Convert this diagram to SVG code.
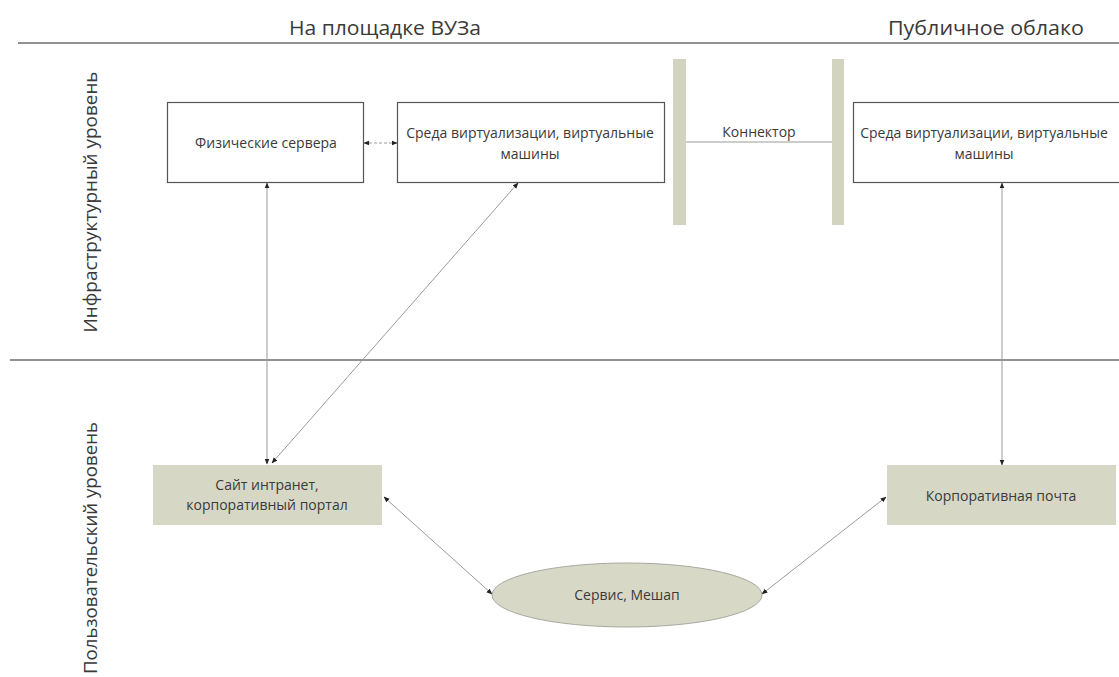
<svg xmlns="http://www.w3.org/2000/svg" width="1119" height="677" viewBox="0 0 1119 677">
<style>
.hdr{font-family:"Open Sans","Noto Sans","DejaVu Sans",sans-serif;font-size:20px;fill:#3a3a3a;text-anchor:middle}
.lane{font-family:"Open Sans","Noto Sans","DejaVu Sans",sans-serif;font-size:19px;fill:#3a3a3a;text-anchor:middle}
.t{font-family:"Open Sans","Noto Sans","DejaVu Sans",sans-serif;font-size:14px;fill:#3a3a3a;text-anchor:middle}
.box{fill:#ffffff;stroke:#555555;stroke-width:1.2}
.gbox{fill:#d6d8c5;stroke:none}
.bar{fill:#d3d4c0;stroke:none}
.sep{stroke:#6e6e6e;stroke-width:1.5;fill:none}
.c{stroke:#9a9a9a;stroke-width:1;fill:none;marker-start:url(#ah);marker-end:url(#ah)}
</style>
<defs>
<marker id="ah" viewBox="0 0 10 10" refX="9" refY="5" markerWidth="6" markerHeight="6" markerUnits="userSpaceOnUse" orient="auto-start-reverse">
<path d="M0,1 L10,5 L0,9 z" fill="#222222"/>
</marker>
</defs>
<rect width="1119" height="677" fill="#ffffff"/>
<g id="lanes">
<line class="sep" x1="18" y1="43" x2="1119" y2="43"/>
<line class="sep" x1="10" y1="360" x2="1119" y2="360"/>
<text class="hdr" x="385" y="35" textLength="192" lengthAdjust="spacingAndGlyphs">На площадке ВУЗа</text>
<text class="hdr" x="986" y="35" textLength="196" lengthAdjust="spacingAndGlyphs">Публичное облако</text>
<text class="lane" transform="translate(97,202) rotate(-90)" textLength="261" lengthAdjust="spacingAndGlyphs">Инфраструктурный уровень</text>
<text class="lane" transform="translate(97,548) rotate(-90)" textLength="252" lengthAdjust="spacingAndGlyphs">Пользовательский уровень</text>
</g>
<g id="connectors">
<line class="c" x1="364" y1="143" x2="397" y2="143" stroke-dasharray="3,2"/>
<line x1="686" y1="142" x2="832" y2="142" stroke="#9a9a9a" stroke-width="1"/>
<line class="c" x1="267" y1="183" x2="267" y2="464"/>
<line class="c" x1="518" y1="183" x2="272" y2="463"/>
<line class="c" x1="1002" y1="183" x2="1002" y2="465"/>
<line class="c" x1="384" y1="497" x2="492" y2="594"/>
<line class="c" x1="762" y1="594" x2="886" y2="497"/>
</g>
<g id="bar1"><rect class="bar" x="673" y="59" width="13" height="166"/></g>
<g id="bar2"><rect class="bar" x="832" y="59" width="12" height="166"/></g>
<g id="connector-label"><text class="t" x="759" y="137">Коннектор</text></g>
<g id="phys">
<rect class="box" x="167.5" y="102.5" width="196" height="80"/>
<text class="t" x="266" y="148">Физические сервера</text>
</g>
<g id="virt-local">
<rect class="box" x="397.5" y="102.5" width="267" height="80"/>
<text class="t" x="530" y="138">Среда виртуализации, виртуальные</text>
<text class="t" x="530" y="159">машины</text>
</g>
<g id="virt-cloud">
<rect class="box" x="853.5" y="102.5" width="270" height="80"/>
<text class="t" x="984" y="138">Среда виртуализации, виртуальные</text>
<text class="t" x="984" y="159">машины</text>
</g>
<g id="portal">
<rect class="gbox" x="153" y="465" width="229" height="60"/>
<text class="t" x="267" y="490">Сайт интранет,</text>
<text class="t" x="267" y="510">корпоративный портал</text>
</g>
<g id="mail">
<rect class="gbox" x="887" y="465" width="229" height="60"/>
<text class="t" x="1001" y="501">Корпоративная почта</text>
</g>
<g id="mashup">
<ellipse cx="627" cy="595" rx="135" ry="32" fill="#d7d9c6" stroke="#a8a8a0" stroke-width="1"/>
<text class="t" x="627" y="600">Сервис, Мешап</text>
</g>
</svg>
